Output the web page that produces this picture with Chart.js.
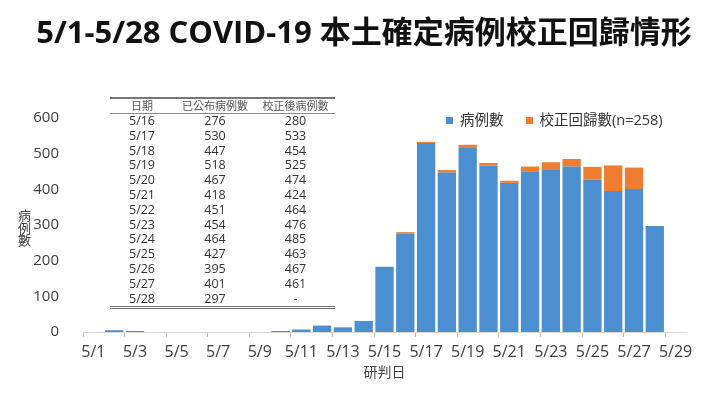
<!DOCTYPE html>
<html>
<head>
<meta charset="utf-8">
<script src="https://cdn.jsdelivr.net/npm/chart.js"></script>
<style>
body{margin:0;background:#fff;}
#wrap{position:relative;width:720px;height:395px;font-family:'Open Sans','Noto Sans CJK TC',sans-serif;color:#333;}
#title{position:absolute;left:8px;width:712px;top:12px;text-align:center;font-size:31px;line-height:38px;font-weight:bold;color:#111;white-space:nowrap;}
#yTitle{position:absolute;left:18px;top:209px;width:14px;font-size:13px;line-height:12.5px;color:#444;font-family:'Noto Sans CJK TC',sans-serif;}
#legend{position:absolute;left:446px;top:108px;font-size:14.5px;color:#333;white-space:nowrap;}
#legend span.box{display:inline-block;width:7px;height:7px;margin-right:7px;vertical-align:1px;}
#legend span.item{margin-right:22px;}
#tbl{position:absolute;left:110px;top:97px;width:225px;table-layout:fixed;border-collapse:collapse;border-top:2px solid #777;border-bottom:3px double #777;font-size:12.5px;}
#tbl th{font-weight:normal;font-size:11px;color:#555;height:14px;line-height:14px;padding:0;border-bottom:1px solid #888;}
#tbl td{text-align:center;height:14.8px;line-height:14.8px;padding:0;color:#333;}
</style>
</head>
<body>
<div id="wrap">
<canvas id="covidChart" width="720" height="395"></canvas>
<div id="title">5/1-5/28 COVID-19 本土確定病例校正回歸情形</div>
<div id="yTitle">病<br>例<br>數</div>
<table id="tbl"><colgroup><col style="width:64px"><col style="width:82px"><col style="width:79px"></colgroup>
<thead><tr id="tblHead"></tr></thead><tbody id="tblBody"></tbody></table>
<div id="legend"></div>
</div>
<script>
// categories (研判日) 5/1 ~ 5/29
let days = ['5/1','5/2','5/3','5/4','5/5','5/6','5/7','5/8','5/9','5/10','5/11','5/12','5/13','5/14','5/15',
  '5/16','5/17','5/18','5/19','5/20','5/21','5/22','5/23','5/24','5/25','5/26','5/27','5/28','5/29']

// 病例數 (blue)
let cases = [0,5,3,0,0,0,0,0,0,3,7,18,13,31,183,
  276,530,447,518,467,418,451,454,464,427,395,401,297,null]

// 校正回歸數 (orange, stacked on top)
let backlog = [null,null,null,null,null,null,null,null,null,null,null,null,null,null,null,
  4,3,7,7,7,6,13,22,21,36,72,60,null,null]

// table in the upper left
let tableHead = ['日期','已公布病例數','校正後病例數']
let tableDates = ['5/16','5/17','5/18','5/19','5/20','5/21','5/22','5/23','5/24','5/25','5/26','5/27','5/28']
let tablePublished = [276,530,447,518,467,418,451,454,464,427,395,401,297]
let tableCorrected = ['280','533','454','525','474','424','464','476','485','463','467','461','-']

let yTicks = [0,100,200,300,400,500,600]

let blue = '#4b8fd1'
let orange = '#ee7d31'

// build table
let head = document.getElementById('tblHead')
tableHead.forEach(h => {
  let th = document.createElement('th')
  th.textContent = h
  head.appendChild(th)
})
let body = document.getElementById('tblBody')
tableDates.forEach((d, i) => {
  let tr = document.createElement('tr')
  ;[d, tablePublished[i], tableCorrected[i]].forEach(v => {
    let td = document.createElement('td')
    td.textContent = v
    tr.appendChild(td)
  })
  body.appendChild(tr)
})

// legend
let legendItems = [['病例數', blue], ['校正回歸數(n=258)', orange]]
document.getElementById('legend').innerHTML = legendItems.map(l =>
  `<span class="item"><span class="box" style="background:${l[1]}"></span>${l[0]}</span>`).join('')

let ctx = document.getElementById('covidChart').getContext('2d')
let myChart = new Chart(ctx, {
  type: 'bar',
  data: {
    labels: days,
    datasets: [
      {label: '病例數', data: cases, backgroundColor: blue},
      {label: '校正回歸數(n=258)', data: backlog, backgroundColor: orange}
    ]
  },
  options: {
    responsive: false,
    devicePixelRatio: 1,
    animation: false,
    layout: {padding: {left: 0, right: 34, top: 118, bottom: 0}},
    datasets: {bar: {categoryPercentage: 1, barPercentage: 0.88}},
    plugins: {
      legend: {display: false},
      tooltip: {enabled: false}
    },
    scales: {
      x: {
        stacked: true,
        offset: true,
        grid: {
          display: true,
          offset: true,
          drawOnChartArea: false,
          tickLength: 5,
          tickColor: c => c.index % 2 === 0 ? '#bfbfbf' : 'rgba(0,0,0,0)'
        },
        border: {display: true, color: '#d9d9d9'},
        ticks: {
          autoSkip: false,
          maxRotation: 0,
          padding: 6,
          color: '#404040',
          font: {family: "'Open Sans',sans-serif", size: 16},
          callback: (v, i) => i % 2 === 0 ? days[i] : ''
        },
        title: {
          display: true,
          text: '研判日',
          color: '#444',
          font: {family: "'Noto Sans CJK TC',sans-serif", size: 14},
          padding: {top: 0, bottom: 15}
        },
        afterFit: s => { s.height = 63 }
      },
      y: {
        stacked: true,
        min: 0,
        max: 600,
        grid: {display: false},
        border: {display: false},
        afterBuildTicks: s => { s.ticks = yTicks.map(v => ({value: v})) },
        ticks: {
          padding: 16,
          color: '#404040',
          font: {family: "'Open Sans',sans-serif", size: 15}
        },
        afterFit: s => { s.width = 83 }
      }
    }
  }
})
</script>
</body>
</html>
